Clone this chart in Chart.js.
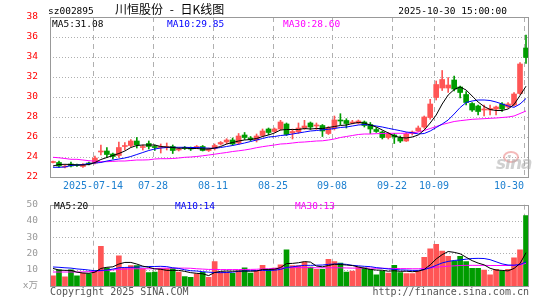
<!DOCTYPE html>
<html>
<head>
<meta charset="utf-8">
<script src="https://cdn.jsdelivr.net/npm/chart.js@4.4.1/dist/chart.umd.min.js"></script>
<style>
    html, body { margin: 0; padding: 0; background: #fff; }
    #wrap { position: relative; width: 545px; height: 300px; overflow: hidden; font-family: 'DejaVu Sans Mono', monospace; }
    canvas { position: absolute; left: 0; }
    #price-chart  { top: 0; }
    #volume-chart { top: 195px; }
    .lbl { position: absolute; white-space: pre; line-height: 12px; font-size: 9.5px; color: #000; }
    #title { font-family: 'Noto Sans CJK SC', sans-serif; font-size: 12px; line-height: 14px; word-spacing: 4px; }
    .blue { color: #0000ff; }
    .pink { color: #ff00ff; }
    .foot { font-size: 10px; color: #555; }
    #logo-eye { position: absolute; left: 503px; top: 151px; width: 12px; height: 8px; border: 2px solid rgba(235,130,130,0.55); border-radius: 50%; }
    #logo { position: absolute; left: 496px; top: 153px; font: italic bold 17px 'DejaVu Sans', sans-serif; color: rgba(170,170,170,0.55); letter-spacing: -1px; }
</style>
</head>
<body>
<div id="wrap">
    <canvas id="price-chart" width="545" height="195"></canvas>
    <canvas id="volume-chart" width="545" height="105"></canvas>

    <div class="lbl" style="left:48px; top:5px;">sz002895</div>
    <div class="lbl" id="title" style="left:115px; top:2px;">川恒股份 - 日K线图</div>
    <div class="lbl" style="right:38px; top:5px;">2025-10-30 15:00:00</div>

    <div class="lbl" style="left:52px; top:18px;">MA5:31.08</div>
    <div class="lbl blue" style="left:167px; top:18px;">MA10:29.85</div>
    <div class="lbl pink" style="left:283px; top:18px;">MA30:28.60</div>

    <div id="logo-eye"></div>
    <div id="logo">sina</div>

    <div class="lbl" style="left:54px; top:200px;">MA5:20</div>
    <div class="lbl blue" style="left:175px; top:200px;">MA10:14</div>
    <div class="lbl pink" style="left:295px; top:200px;">MA30:13</div>

    <div class="lbl foot" style="left:50px; top:286px;">Copyright 2025 SINA.COM</div>
    <div class="lbl foot" style="right:16px; top:286px;">http://finance.sina.com.cn</div>
</div>

<script>
// ─── Data ────────────────────────────────────────────────────────────────────

const year = '2025';
const dates = [
    '07-03','07-04','07-07','07-08','07-09','07-10','07-11','07-14','07-15','07-16',
    '07-17','07-18','07-21','07-22','07-23','07-24','07-25','07-28','07-29','07-30',
    '07-31','08-01','08-04','08-05','08-06','08-07','08-08','08-11','08-12','08-13',
    '08-14','08-15','08-18','08-19','08-20','08-21','08-22','08-25','08-26','08-27',
    '08-28','08-29','09-01','09-02','09-03','09-04','09-05','09-08','09-09','09-10',
    '09-11','09-12','09-15','09-16','09-17','09-18','09-19','09-22','09-23','09-24',
    '09-25','09-26','09-29','09-30','10-09','10-10','10-13','10-14','10-15','10-16',
    '10-17','10-20','10-21','10-22','10-23','10-24','10-27','10-28','10-29','10-30',
];
const tickDates = ['07-14', '07-28', '08-11', '08-25', '09-08', '09-22', '10-09', '10-30'];

const opens = [
    23.45, 23.45, 23.00, 23.30, 23.25, 23.05, 23.40, 23.40, 24.50, 24.60,
    24.30, 24.15, 25.05, 25.15, 25.60, 24.95, 25.35, 25.00, 24.95, 24.95,
    25.05, 24.70, 24.95, 24.95, 24.90, 25.05, 24.65, 24.85, 25.30, 25.50,
    25.70, 25.40, 26.20, 25.90, 25.70, 26.15, 26.80, 26.55, 26.80, 27.30,
    26.40, 26.50, 26.90, 27.40, 27.10, 27.15, 26.35, 26.90, 27.70, 27.65,
    27.40, 27.40, 27.50, 27.25, 26.75, 26.50, 25.95, 26.20, 25.93, 25.60,
    26.35, 26.60, 27.00, 27.95, 29.95, 30.90, 30.90, 31.70, 31.00, 30.25,
    29.35, 29.10, 28.70, 28.70, 28.80, 29.30, 29.00, 29.20, 30.35, 34.90,
];
const highs = [
    23.60, 23.60, 23.20, 23.50, 23.30, 23.35, 23.50, 24.10, 25.20, 24.95,
    24.40, 25.50, 25.45, 25.75, 25.95, 25.20, 25.60, 25.20, 25.30, 25.40,
    25.20, 24.95, 25.05, 25.00, 25.15, 25.15, 24.90, 25.30, 25.55, 25.83,
    25.90, 26.35, 26.45, 26.05, 26.30, 26.80, 26.90, 26.90, 27.67, 27.40,
    26.80, 27.40, 27.67, 27.50, 27.40, 27.25, 27.05, 28.10, 28.33, 27.83,
    27.67, 27.70, 27.60, 27.45, 26.95, 26.60, 26.45, 26.35, 26.10, 26.45,
    26.60, 27.10, 28.10, 29.77, 31.60, 32.65, 31.95, 32.10, 31.10, 30.55,
    29.45, 29.20, 29.20, 29.20, 29.10, 29.45, 29.45, 30.45, 33.43, 36.20,
];
const lows = [
    23.40, 22.95, 22.90, 23.00, 23.05, 22.95, 23.20, 23.30, 24.20, 23.95,
    23.80, 23.95, 24.70, 25.00, 24.90, 24.70, 24.80, 24.65, 24.40, 24.70,
    24.35, 24.60, 24.75, 24.65, 24.85, 24.60, 24.55, 24.70, 25.20, 25.30,
    25.15, 25.25, 25.75, 25.60, 25.50, 26.00, 26.23, 26.45, 26.67, 26.15,
    25.80, 26.35, 26.75, 26.75, 26.75, 26.05, 26.25, 26.70, 27.23, 26.90,
    27.30, 27.30, 27.00, 26.35, 26.45, 25.80, 25.80, 25.35, 25.45, 25.55,
    26.20, 26.55, 26.87, 27.77, 29.70, 30.65, 30.45, 30.60, 29.90, 29.20,
    28.55, 28.20, 28.10, 28.20, 28.20, 28.55, 28.90, 29.10, 30.27, 33.35,
];
const closes = [
    23.50, 23.10, 23.10, 23.10, 23.15, 23.25, 23.30, 23.90, 24.60, 24.25,
    24.05, 24.95, 25.15, 25.60, 25.20, 25.05, 25.05, 24.95, 25.05, 25.00,
    24.65, 24.80, 24.85, 24.80, 25.05, 24.65, 24.80, 25.15, 25.45, 25.70,
    25.30, 26.10, 25.95, 25.75, 26.10, 26.60, 26.45, 26.80, 27.50, 26.25,
    26.55, 26.90, 27.10, 27.00, 27.15, 26.60, 26.90, 27.70, 27.60, 27.35,
    27.50, 27.60, 27.15, 26.80, 26.55, 25.95, 26.33, 26.00, 25.60, 26.30,
    26.50, 26.90, 28.00, 29.30, 31.25, 31.75, 31.20, 30.80, 30.45, 29.45,
    28.70, 28.55, 28.80, 28.85, 29.00, 28.80, 29.30, 30.30, 33.30, 33.95,
];
const ma5 = [
    23.10, 23.25, 23.27, 23.25, 23.20, 23.20, 23.25, 23.45, 23.75, 23.95,
    24.15, 24.35, 24.60, 24.95, 25.15, 25.20, 25.20, 25.20, 25.05, 25.00,
    24.95, 24.87, 24.90, 24.85, 24.85, 24.80, 24.80, 24.90, 25.05, 25.30,
    25.45, 25.60, 25.70, 25.75, 25.85, 26.05, 26.20, 26.40, 26.70, 26.75,
    26.75, 26.75, 26.85, 26.80, 26.85, 26.85, 26.95, 27.05, 27.15, 27.20,
    27.35, 27.45, 27.40, 27.20, 27.00, 26.70, 26.40, 26.10, 25.95, 25.90,
    26.00, 26.20, 26.70, 27.40, 28.20, 29.30, 30.20, 30.75, 31.00, 30.70,
    30.10, 29.50, 29.05, 28.75, 28.65, 28.65, 28.80, 29.25, 30.15, 31.08,
];
const ma10 = [
    22.97, 22.97, 23.00, 23.15, 23.20, 23.25, 23.35, 23.40, 23.45, 23.60,
    23.70, 23.80, 23.90, 24.05, 24.25, 24.45, 24.65, 24.80, 24.90, 24.95,
    24.97, 24.97, 24.97, 24.95, 24.95, 24.92, 24.88, 24.87, 24.95, 25.05,
    25.15, 25.27, 25.40, 25.55, 25.70, 25.85, 26.00, 26.05, 26.15, 26.20,
    26.30, 26.40, 26.50, 26.60, 26.65, 26.72, 26.77, 26.85, 26.95, 27.00,
    27.10, 27.20, 27.25, 27.18, 27.10, 27.00, 26.87, 26.75, 26.63, 26.50,
    26.43, 26.30, 26.35, 26.60, 26.95, 27.30, 27.70, 28.30, 28.95, 29.45,
    29.60, 29.70, 29.70, 29.65, 29.50, 29.30, 29.10, 28.97, 29.30, 29.85,
];
const ma30 = [
    23.97, 23.92, 23.85, 23.77, 23.77, 23.70, 23.63, 23.58, 23.53, 23.53,
    23.56, 23.60, 23.60, 23.65, 23.70, 23.70, 23.72, 23.80, 23.83, 23.83,
    23.85, 23.90, 23.97, 24.00, 24.05, 24.12, 24.20, 24.28, 24.37, 24.45,
    24.55, 24.62, 24.70, 24.80, 24.93, 25.03, 25.12, 25.20, 25.30, 25.33,
    25.40, 25.47, 25.50, 25.55, 25.60, 25.62, 25.70, 25.80, 25.95, 26.05,
    26.15, 26.25, 26.30, 26.30, 26.33, 26.35, 26.37, 26.37, 26.37, 26.38,
    26.40, 26.50, 26.65, 26.85, 27.05, 27.25, 27.40, 27.55, 27.63, 27.70,
    27.77, 27.80, 27.83, 27.87, 27.90, 27.95, 28.00, 28.10, 28.35, 28.60,
];

// volume, in units of 10 000 lots
const volumes = [
     6.3, 10.0,  5.7, 10.0,  6.3,  7.8,  7.5,  9.4, 24.4, 11.0,
     8.2, 18.6, 11.0, 12.6, 12.6, 10.7,  8.2,  8.6, 10.7, 10.7,
    10.7,  8.5,  5.8,  5.3,  7.5,  8.4,  5.3, 15.0,  8.6,  8.6,
     7.8,  9.4, 11.2,  8.0,  9.5, 12.7, 10.3, 11.0, 13.0, 22.2,
    12.5, 12.5, 14.7, 11.6, 10.2, 10.2, 16.4, 15.0, 14.1,  8.6,
     9.2, 11.6, 11.2, 10.2,  6.9,  9.2,  7.9, 12.7,  8.2,  7.6,
     7.6,  9.2, 17.6, 22.8, 25.7, 21.4, 18.3, 15.3, 18.3, 15.0,
    10.8, 10.8,  9.8,  6.9, 10.2,  9.2, 10.2, 17.4, 22.2, 43.3,
];
const volMa5 = [
    10.8,  9.8,  9.6,  9.6,  8.5,  8.0,  7.8,  8.5, 10.8, 11.5,
    11.8, 13.5, 14.5, 14.5, 13.5, 12.2, 11.5, 10.5, 10.3,  9.6,
     9.6,  9.6,  9.0,  8.2,  7.8,  7.5,  6.4,  8.3,  9.0,  9.2,
     9.1,  9.2,  9.2,  9.1,  9.2, 10.2, 10.2, 10.3, 11.3, 13.8,
    13.9, 14.3, 15.0, 14.7, 12.3, 11.8, 12.6, 13.4, 13.2, 12.9,
    12.6, 11.7, 10.9, 10.2,  9.8,  9.7,  9.1,  9.4,  9.0,  9.1,
     8.8,  9.1, 10.2, 13.0, 16.6, 19.3, 21.2, 20.7, 19.8, 17.7,
    15.6, 14.1, 13.0, 10.9,  9.8,  9.6,  9.3, 10.8, 13.8, 20.5,
];
const volMa10 = [
    11.7, 11.5, 11.2, 11.0, 10.5, 10.2,  9.8,  9.4,  9.6,  9.8,
    10.4, 11.2, 11.4, 11.5, 11.6, 11.8, 12.0, 12.0, 12.1, 11.9,
    11.2, 10.8, 10.0,  9.4,  9.2,  8.8,  8.5,  8.3,  8.2,  8.3,
     8.5,  9.0,  9.3,  9.4,  9.5,  9.6,  9.6,  9.7, 10.2, 11.4,
    11.8, 12.3, 12.7, 12.7, 12.8, 12.9, 13.3, 13.5, 13.6, 13.3,
    12.7, 12.4, 12.1, 11.9, 11.3, 10.9, 10.5, 10.2,  9.9,  9.8,
     9.6,  9.6, 10.1, 11.2, 12.7, 14.2, 15.1, 15.7, 16.0, 16.5,
    16.9, 17.0, 16.9, 16.2, 14.9, 13.6, 12.9, 12.8, 13.2, 14.9,
];
const volMa30 = [
     8.6,  8.6,  8.6,  8.6,  8.6,  8.7,  8.8,  9.0,  9.3,  9.6,
     9.9, 10.2, 10.4, 10.6, 10.6, 10.6, 10.6, 10.7, 10.9, 11.0,
    11.0, 11.0, 11.0, 10.9, 10.6, 10.4, 10.2, 10.2, 10.1, 10.1,
    10.1, 10.1, 10.2, 10.2, 10.3, 10.5, 10.6, 10.8, 11.0, 11.2,
    11.3, 11.3, 11.3, 11.3, 11.2, 11.2, 11.2, 11.2, 11.2, 11.1,
    11.0, 11.0, 11.0, 11.0, 10.9, 10.9, 10.8, 10.8, 10.7, 10.7,
    10.6, 10.6, 10.8, 11.1, 11.5, 11.9, 12.2, 12.4, 12.6, 12.7,
    12.7, 12.7, 12.7, 12.6, 12.6, 12.6, 12.6, 12.7, 13.0, 13.9,
];

// ─── Style ───────────────────────────────────────────────────────────────────

const UP    = '#ff5555';
const DOWN  = '#009c00';
const MONO  = "'DejaVu Sans Mono', 'Noto Sans CJK SC', monospace";
const candleColors = closes.map((c, i) => c >= opens[i] ? UP : DOWN);

// grid, frame and date labels, shared by both panels
const framePlugin = {
    id: 'frame',
    beforeDatasetsDraw(chart) {
        const { ctx, chartArea: a, scales } = chart;
        ctx.save();
        ctx.strokeStyle = '#b0b0b0';
        ctx.lineWidth   = 1;

        ctx.setLineDash([1, 2]);
        scales.y.ticks.forEach(t => {
            if (t.value <= scales.y.min || t.value >= scales.y.max) return;
            const y = Math.round(scales.y.getPixelForValue(t.value)) + 0.5;
            ctx.beginPath(); ctx.moveTo(a.left, y); ctx.lineTo(a.right, y); ctx.stroke();
        });

        ctx.setLineDash([5, 4]);
        tickDates.forEach(d => {
            const x = Math.round(scales.x.getPixelForValue(dates.indexOf(d))) - 2 + 0.5;
            ctx.beginPath(); ctx.moveTo(x, a.top); ctx.lineTo(x, a.bottom); ctx.stroke();
        });
        ctx.restore();
    },
    afterDraw(chart, args, opts) {
        const { ctx, chartArea: a, scales } = chart;
        ctx.save();
        ctx.strokeStyle = '#999';
        ctx.lineWidth   = 1;
        ctx.strokeRect(Math.round(a.left) + 0.5, Math.round(a.top) + 0.5,
                       Math.round(a.right - a.left) - 1, Math.round(a.bottom - a.top));

        if (opts.dateLabels) {
            ctx.font         = `10px ${MONO}`;
            ctx.fillStyle    = '#1e80d0';
            ctx.textBaseline = 'middle';
            tickDates.forEach((d, k) => {
                const x = Math.round(scales.x.getPixelForValue(dates.indexOf(d))) - 2;
                const last = k === tickDates.length - 1;
                ctx.textAlign = last ? 'right' : 'center';
                ctx.fillText(k === 0 ? `${year}-${d}` : d, last ? x : x, a.bottom + 9);
            });
        }
        ctx.restore();
    },
};

const maLine = (label, data, color) => ({
    type: 'line', label, data, borderColor: color, borderWidth: 1,
    pointRadius: 0, tension: 0, fill: false, order: 0,
});

// ─── Price panel ─────────────────────────────────────────────────────────────

new Chart(document.getElementById('price-chart'), {
    type: 'bar',
    data: {
        labels: dates,
        datasets: [
            maLine('MA5',  ma5,  '#000000'),
            maLine('MA10', ma10, '#0000ff'),
            maLine('MA30', ma30, '#ff00ff'),
            { label: 'body', data: opens.map((o, i) => [o, closes[i]]), backgroundColor: candleColors,
              barThickness: 5, minBarLength: 1, grouped: false, order: 1 },
            { label: 'wick', data: lows.map((l, i) => [l, highs[i]]), backgroundColor: candleColors,
              barThickness: 1, grouped: false, order: 2 },
        ],
    },
    options: {
        responsive: false,
        animation: false,
        devicePixelRatio: 1,
        layout: { padding: { top: 17, right: 16, left: 0, bottom: 0 } },
        plugins: { legend: { display: false }, tooltip: { enabled: false }, frame: { dateLabels: true } },
        scales: {
            x: {
                grid: { display: false }, border: { display: false }, ticks: { display: false },
                afterFit(s) { s.height = 18; },
            },
            y: {
                min: 22, max: 38,
                ticks: { stepSize: 2, color: '#ff0000', font: { family: MONO, size: 9.5 }, padding: 4 },
                grid: { display: false }, border: { display: false },
                afterFit(s) { s.width = 50; },
            },
        },
    },
    plugins: [framePlugin],
});

// ─── Volume panel ────────────────────────────────────────────────────────────

new Chart(document.getElementById('volume-chart'), {
    type: 'bar',
    data: {
        labels: dates,
        datasets: [
            maLine('MA5',  volMa5,  '#000000'),
            maLine('MA10', volMa10, '#0000ff'),
            maLine('MA30', volMa30, '#ff00ff'),
            { label: 'volume', data: volumes, backgroundColor: candleColors, barThickness: 5, order: 1 },
        ],
    },
    options: {
        responsive: false,
        animation: false,
        devicePixelRatio: 1,
        layout: { padding: { top: 5, right: 16, left: 0, bottom: 0 } },
        plugins: { legend: { display: false }, tooltip: { enabled: false }, frame: { dateLabels: false } },
        scales: {
            x: {
                grid: { display: false }, border: { display: false }, ticks: { display: false },
                afterFit(s) { s.height = 14; },
            },
            y: {
                min: 0, max: 50,
                ticks: {
                    stepSize: 10, color: '#999', font: { family: MONO, size: 9.5 }, padding: 4,
                    callback: v => v === 0 ? 'x万' : v,
                },
                grid: { display: false }, border: { display: false },
                afterFit(s) { s.width = 50; },
            },
        },
    },
    plugins: [framePlugin],
});
</script>
</body>
</html>
